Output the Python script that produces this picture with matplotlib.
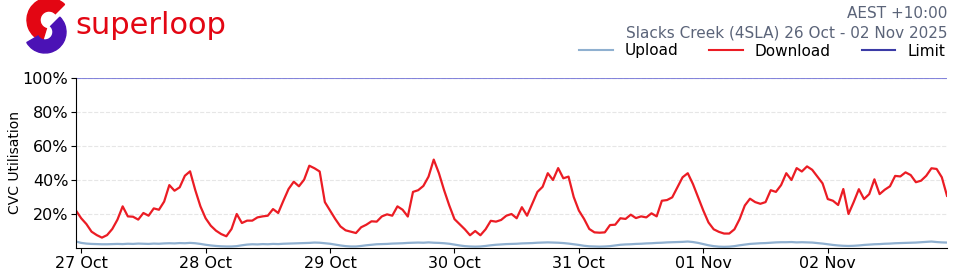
import matplotlib
matplotlib.use('Agg')
import matplotlib.pyplot as plt
import matplotlib.dates as mdates
from matplotlib.patches import Wedge
from matplotlib.lines import Line2D
import pandas as pd

# hourly samples, 26 Oct 23:00 -> 02 Nov 23:00
start_time = '2025-10-26 23:00'

download_start = [22.0]
download_27oct = [17.5, 14.1, 9.6, 7.6, 6.1, 7.6, 11.2, 16.7, 24.5, 18.6, 18.4, 16.7,
                  20.6, 19.0, 23.3, 22.5, 27.3, 37.0, 33.7, 35.7, 42.5, 45.1, 34.1, 24.5]
download_28oct = [17.5, 13.1, 10.2, 8.2, 6.9, 11.2, 20.0, 14.7, 16.1, 16.1, 18.0, 18.6,
                  19.0, 22.9, 20.6, 27.8, 34.7, 39.0, 36.3, 40.2, 48.4, 46.9, 45.0, 27.0]
download_29oct = [22.0, 17.1, 12.7, 10.4, 9.6, 8.8, 12.2, 13.7, 15.7, 15.5, 18.6, 19.8,
                  19.0, 24.5, 22.5, 18.5, 33.0, 34.0, 36.5, 42.0, 52.0, 44.0, 34.0, 25.0]
download_30oct = [17.0, 14.0, 11.0, 7.5, 10.0, 7.5, 11.0, 16.0, 15.5, 16.5, 19.0, 20.0,
                  17.5, 24.0, 19.0, 26.0, 33.0, 36.0, 44.0, 40.0, 47.0, 41.0, 42.0, 30.0]
download_31oct = [22.0, 17.1, 11.2, 9.2, 9.0, 9.2, 13.5, 13.7, 17.5, 17.1, 19.6, 17.6,
                  18.6, 18.0, 20.4, 18.6, 27.8, 28.2, 29.8, 35.7, 41.6, 44.0, 37.6, 29.8]
download_01nov = [22.0, 15.0, 11.0, 9.5, 8.5, 8.5, 11.0, 17.0, 25.0, 29.0, 27.0, 26.0,
                  27.0, 34.0, 33.0, 37.0, 44.0, 40.0, 47.0, 45.0, 48.0, 46.0, 42.0, 38.0]
download_02nov = [28.8, 27.8, 25.3, 34.7, 20.0, 27.0, 34.6, 28.8, 31.7, 40.4, 31.7, 34.3,
                  36.3, 42.4, 42.1, 44.5, 42.9, 38.7, 39.6, 42.5, 46.9, 46.5, 41.6, 30.7]

upload_start = [3.8]
upload_27oct = [3.0, 2.6, 2.4, 2.3, 2.2, 2.2, 2.3, 2.4, 2.3, 2.5, 2.4, 2.6,
                2.5, 2.4, 2.6, 2.5, 2.7, 2.8, 2.7, 2.9, 2.8, 3.0, 2.8, 2.4]
upload_28oct = [1.9, 1.5, 1.2, 1.0, 0.9, 0.9, 1.1, 1.6, 2.0, 2.2, 2.1, 2.3,
                2.2, 2.4, 2.3, 2.5, 2.6, 2.7, 2.8, 2.9, 3.0, 3.2, 3.1, 2.8]
upload_29oct = [2.5, 2.0, 1.5, 1.1, 0.9, 0.9, 1.2, 1.6, 1.9, 2.2, 2.3, 2.4,
                2.6, 2.7, 2.8, 3.0, 3.1, 3.2, 3.1, 3.3, 3.1, 3.0, 2.8, 2.5]
upload_30oct = [2.0, 1.5, 1.1, 0.9, 0.8, 0.9, 1.2, 1.6, 1.9, 2.1, 2.3, 2.4,
                2.5, 2.7, 2.8, 2.9, 3.1, 3.2, 3.3, 3.2, 3.1, 2.9, 2.6, 2.2]
upload_31oct = [1.8, 1.3, 1.0, 0.9, 0.8, 0.9, 1.1, 1.5, 1.9, 2.1, 2.2, 2.4,
                2.5, 2.7, 2.8, 3.0, 3.1, 3.3, 3.4, 3.5, 3.6, 3.8, 3.5, 3.0]
upload_01nov = [2.3, 1.6, 1.1, 0.8, 0.7, 0.8, 1.1, 1.6, 2.0, 2.4, 2.6, 2.8,
                2.9, 3.1, 3.3, 3.4, 3.4, 3.5, 3.3, 3.4, 3.3, 3.2, 2.9, 2.6]
upload_02nov = [2.2, 1.8, 1.5, 1.3, 1.2, 1.3, 1.5, 1.8, 2.0, 2.2, 2.3, 2.5,
                2.6, 2.8, 2.9, 3.0, 3.1, 3.2, 3.4, 3.6, 3.8, 3.5, 3.3, 3.2]

limit_value = 100
y_ticks = [20, 40, 60, 80, 100]

download = (download_start + download_27oct + download_28oct + download_29oct +
            download_30oct + download_31oct + download_01nov + download_02nov)
upload = (upload_start + upload_27oct + upload_28oct + upload_29oct +
          upload_30oct + upload_31oct + upload_01nov + upload_02nov)
times = pd.date_range(start_time, periods=len(download), freq='h')

UP_COL = '#8fb0d0'
DOWN_COL = '#eb1c24'
LIM_COL = '#3b3ba6'
RED = '#e30613'
PURPLE = '#4b12b5'

fig = plt.figure(figsize=(9.6, 2.8), dpi=100)
ax = fig.add_axes([76/960, 1-248/280, 871/960, 170/280])

ax.plot(times, upload, color=UP_COL, lw=1.6)
ax.plot(times, download, color=DOWN_COL, lw=1.6)
ax.axhline(limit_value, color='#6a6ad6', lw=1.5, alpha=0.8)

ax.set_ylim(0, 100)
ax.set_xlim(times[0], times[-1])
ax.set_yticks(y_ticks)
ax.set_yticklabels(['%d%%' % v for v in y_ticks], fontsize=11.5)
ax.yaxis.grid(True, linestyle='--', color='#e6e6e6', lw=0.8)
ax.set_axisbelow(True)
ax.xaxis.set_major_locator(mdates.DayLocator())
ax.xaxis.set_major_formatter(mdates.DateFormatter('%d %b'))
ax.tick_params(axis='x', labelsize=11.5, pad=2)
ax.tick_params(axis='y', pad=2)
for s in ['top', 'right']:
    ax.spines[s].set_visible(False)
ax.set_ylabel('CVC Utilisation', fontsize=10)
ax.yaxis.set_label_coords(-0.062, 0.5)

# header text
fig.text(947/960, 1-14/280, 'AEST +10:00', ha='right', va='center',
         fontsize=11, color='#5b6479')
fig.text(947/960, 1-33/280, 'Slacks Creek (4SLA) 26 Oct - 02 Nov 2025', ha='right',
         va='center', fontsize=11, color='#5b6479')

handles = [Line2D([], [], color=UP_COL, lw=1.5),
           Line2D([], [], color=DOWN_COL, lw=1.5),
           Line2D([], [], color=LIM_COL, lw=1.5)]
fig.legend(handles, ['Upload', 'Download', 'Limit'], loc='center right',
           bbox_to_anchor=(959/960, 1-51/280), ncol=3, frameon=False,
           fontsize=11, handlelength=2.2, columnspacing=2.0, handletextpad=0.8)

# logo
lax = fig.add_axes([20/960, 1-56/280, 56/960, 56/280])
lax.set_xlim(0, 56)
lax.set_ylim(56, 0)
lax.axis('off')
lax.add_patch(Wedge((29, 20), 22, 107, 315, width=13, color=RED))
lax.add_patch(Wedge((25, 32), 21, -45, 150, width=13, color=PURPLE))
fig.text(75/960, 1-26/280, 'superloop', fontsize=22, color=RED, va='center',
         ha='left')

plt.savefig('out.png', dpi=100)
